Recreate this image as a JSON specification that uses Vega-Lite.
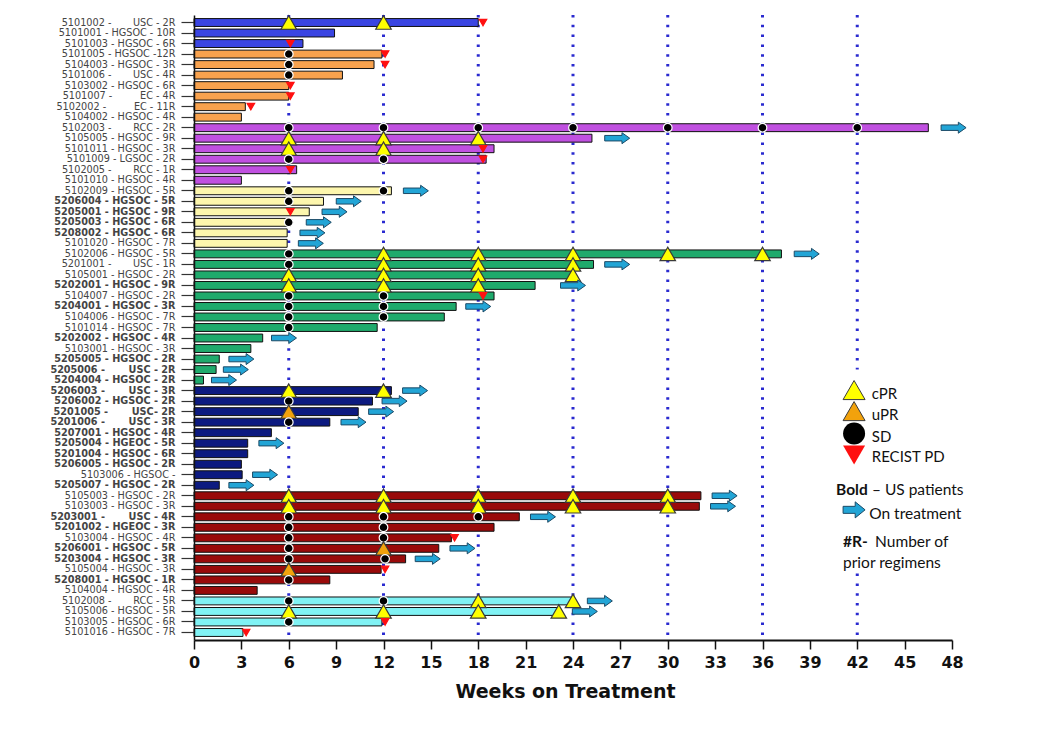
{
  "$schema": "https://vega.github.io/schema/vega-lite/v6.json",
  "width": 758,
  "height": 625,
  "autosize": {"type": "none"},
  "padding": {"left": 194, "top": 15, "right": 97, "bottom": 97},
  "background": "white",
  "config": {"view": {"stroke": null}},
  "datasets": {
    "bars": [
      {"id": "5101002", "pt": "5101002 -\u00a0\u00a0\u00a0\u00a0\u00a0\u00a0\u00a0USC - 2R", "grp": "blue", "end": 18.0},
      {"id": "5101001", "pt": "5101001 - HGSOC - 10R", "grp": "blue", "end": 8.9},
      {"id": "5101003", "pt": "5101003 - HGSOC - 6R", "grp": "blue", "end": 6.9},
      {"id": "5101005", "pt": "5101005 - HGSOC -12R", "grp": "orange", "end": 11.9},
      {"id": "5104003", "pt": "5104003 - HGSOC - 3R", "grp": "orange", "end": 11.4},
      {"id": "5101006", "pt": "5101006 -\u00a0\u00a0\u00a0\u00a0\u00a0\u00a0\u00a0USC - 4R", "grp": "orange", "end": 9.4},
      {"id": "5103002", "pt": "5103002 - HGSOC - 6R", "grp": "orange", "end": 6.0},
      {"id": "5101007", "pt": "5101007 -\u00a0\u00a0\u00a0\u00a0\u00a0\u00a0\u00a0\u00a0\u00a0EC - 4R", "grp": "orange", "end": 6.0},
      {"id": "5102002", "pt": "5102002 -\u00a0\u00a0\u00a0\u00a0\u00a0\u00a0\u00a0\u00a0\u00a0EC - 11R", "grp": "orange", "end": 3.25},
      {"id": "5104002", "pt": "5104002 - HGSOC - 4R\u00a0", "grp": "orange", "end": 3.0},
      {"id": "5102003", "pt": "5102003 -\u00a0\u00a0\u00a0\u00a0\u00a0\u00a0\u00a0RCC - 2R", "grp": "purple", "end": 46.5, "arrow": 48.1},
      {"id": "5105005", "pt": "5105005 - HGSOC - 9R", "grp": "purple", "end": 25.2, "arrow": 26.8},
      {"id": "5101011", "pt": "5101011 - HGSOC - 3R", "grp": "purple", "end": 19.0},
      {"id": "5101009", "pt": "5101009 - LGSOC - 2R", "grp": "purple", "end": 18.5},
      {"id": "5102005", "pt": "5102005 -\u00a0\u00a0\u00a0\u00a0\u00a0\u00a0\u00a0RCC - 1R", "grp": "purple", "end": 6.5},
      {"id": "5101010", "pt": "5101010 - HGSOC - 4R", "grp": "purple", "end": 3.0},
      {"id": "5102009", "pt": "5102009 - HGSOC - 5R", "grp": "yellow", "end": 12.5, "arrow": 14.05},
      {"id": "5206004", "pt": "5206004 - HGSOC - 5R", "grp": "yellow", "end": 8.2, "arrow": 9.8},
      {"id": "5205001", "pt": "5205001 - HGSOC - 9R", "grp": "yellow", "end": 7.3, "arrow": 8.9},
      {"id": "5205003", "pt": "5205003 - HGSOC - 6R", "grp": "yellow", "end": 6.0, "arrow": 7.9},
      {"id": "5208002", "pt": "5208002 - HGSOC - 6R", "grp": "yellow", "end": 5.9, "arrow": 7.5},
      {"id": "5101020", "pt": "5101020 - HGSOC - 7R", "grp": "yellow", "end": 5.9, "arrow": 7.4},
      {"id": "5102006", "pt": "5102006 - HGSOC - 5R", "grp": "green", "end": 37.2, "arrow": 38.8},
      {"id": "5201001", "pt": "5201001 -\u00a0\u00a0\u00a0\u00a0\u00a0\u00a0\u00a0USC - 1R", "grp": "green", "end": 25.3, "arrow": 26.8},
      {"id": "5105001", "pt": "5105001 - HGSOC - 2R", "grp": "green", "end": 24.0},
      {"id": "5202001", "pt": "5202001 - HGSOC - 9R\u00a0", "grp": "green", "end": 21.6, "arrow": 24.0},
      {"id": "5104007", "pt": "5104007 - HGSOC - 2R", "grp": "green", "end": 19.0},
      {"id": "5204001", "pt": "5204001 - HGSOC - 3R", "grp": "green", "end": 16.6, "arrow": 18.0},
      {"id": "5104006", "pt": "5104006 - HGSOC - 7R", "grp": "green", "end": 15.85},
      {"id": "5101014", "pt": "5101014 - HGSOC - 7R", "grp": "green", "end": 11.6},
      {"id": "5202002", "pt": "5202002 - HGSOC - 4R", "grp": "green", "end": 4.35, "arrow": 5.7},
      {"id": "5103001", "pt": "5103001 - HGSOC - 3R", "grp": "green", "end": 3.6},
      {"id": "5205005", "pt": "5205005 - HGSOC - 2R", "grp": "green", "end": 1.6, "arrow": 3.0},
      {"id": "5205006", "pt": "5205006 -\u00a0\u00a0\u00a0\u00a0\u00a0\u00a0\u00a0USC - 2R", "grp": "green", "end": 1.4, "arrow": 2.65},
      {"id": "5204004", "pt": "5204004 - HGSOC - 2R", "grp": "green", "end": 0.6, "arrow": 1.9},
      {"id": "5206003", "pt": "5206003 -\u00a0\u00a0\u00a0\u00a0\u00a0\u00a0\u00a0USC - 3R", "grp": "navy", "end": 12.5, "arrow": 14.0},
      {"id": "5206002", "pt": "5206002 - HGSOC - 2R", "grp": "navy", "end": 11.3, "arrow": 12.7},
      {"id": "5201005", "pt": "5201005 -\u00a0\u00a0\u00a0\u00a0\u00a0\u00a0\u00a0USC- 2R", "grp": "navy", "end": 10.4, "arrow": 11.85},
      {"id": "5201006", "pt": "5201006 -\u00a0\u00a0\u00a0\u00a0\u00a0\u00a0\u00a0USC - 3R", "grp": "navy", "end": 8.6, "arrow": 10.1},
      {"id": "5207001", "pt": "5207001 - HGSOC - 4R", "grp": "navy", "end": 4.9},
      {"id": "5205004", "pt": "5205004 - HGEOC - 5R", "grp": "navy", "end": 3.4, "arrow": 4.9},
      {"id": "5201004", "pt": "5201004 - HGSOC - 6R", "grp": "navy", "end": 3.4},
      {"id": "5206005", "pt": "5206005 - HGSOC - 2R", "grp": "navy", "end": 3.0},
      {"id": "5103006", "pt": "5103006 - HGSOC -\u00a0\u00a0\u00a0\u00a0\u00a0", "grp": "navy", "end": 3.05, "arrow": 4.5},
      {"id": "5205007", "pt": "5205007 - HGSOC - 2R", "grp": "navy", "end": 1.6, "arrow": 3.0},
      {"id": "5105003", "pt": "5105003 - HGSOC - 2R", "grp": "red", "end": 32.1, "arrow": 33.6},
      {"id": "5103003", "pt": "5103003 - HGSOC - 3R", "grp": "red", "end": 32.0, "arrow": 33.5},
      {"id": "5203001", "pt": "5203001 -\u00a0\u00a0\u00a0\u00a0\u00a0\u00a0\u00a0USC - 4R", "grp": "red", "end": 20.6, "arrow": 22.1},
      {"id": "5201002", "pt": "5201002 - HGEOC - 3R", "grp": "red", "end": 19.0},
      {"id": "5103004", "pt": "5103004 - HGSOC - 4R", "grp": "red", "end": 16.3},
      {"id": "5206001", "pt": "5206001 - HGSOC - 5R", "grp": "red", "end": 15.5, "arrow": 17.0},
      {"id": "5203004", "pt": "5203004 - HGSOC - 3R", "grp": "red", "end": 13.4, "arrow": 14.8},
      {"id": "5105004", "pt": "5105004 - HGSOC - 3R", "grp": "red", "end": 11.85},
      {"id": "5208001", "pt": "5208001 - HGSOC - 1R\u00a0", "grp": "red", "end": 8.6},
      {"id": "5104004", "pt": "5104004 - HGSOC - 4R", "grp": "red", "end": 4.0},
      {"id": "5102008", "pt": "5102008 -\u00a0\u00a0\u00a0\u00a0\u00a0\u00a0\u00a0RCC - 5R", "grp": "cyan", "end": 24.0, "arrow": 25.7},
      {"id": "5105006", "pt": "5105006 - HGSOC - 5R", "grp": "cyan", "end": 23.1, "arrow": 24.75},
      {"id": "5103005", "pt": "5103005 - HGSOC - 6R", "grp": "cyan", "end": 11.9},
      {"id": "5101016", "pt": "5101016 - HGSOC - 7R", "grp": "cyan", "end": 3.1}
    ],
    "marks": [
      {"id": "5101002", "wk": 6, "resp": "cPR"},
      {"id": "5101002", "wk": 12, "resp": "cPR"},
      {"id": "5101002", "wk": 18.3, "resp": "RECIST PD"},
      {"id": "5101003", "wk": 6.1, "resp": "RECIST PD"},
      {"id": "5101005", "wk": 6, "resp": "SD"},
      {"id": "5101005", "wk": 12.1, "resp": "RECIST PD"},
      {"id": "5104003", "wk": 6, "resp": "SD"},
      {"id": "5104003", "wk": 12.1, "resp": "RECIST PD"},
      {"id": "5101006", "wk": 6, "resp": "SD"},
      {"id": "5103002", "wk": 6.1, "resp": "RECIST PD"},
      {"id": "5101007", "wk": 6.1, "resp": "RECIST PD"},
      {"id": "5102002", "wk": 3.6, "resp": "RECIST PD"},
      {"id": "5102003", "wk": 6, "resp": "SD"},
      {"id": "5102003", "wk": 12, "resp": "SD"},
      {"id": "5102003", "wk": 18, "resp": "SD"},
      {"id": "5102003", "wk": 24, "resp": "SD"},
      {"id": "5102003", "wk": 30, "resp": "SD"},
      {"id": "5102003", "wk": 36, "resp": "SD"},
      {"id": "5102003", "wk": 42, "resp": "SD"},
      {"id": "5105005", "wk": 6, "resp": "cPR"},
      {"id": "5105005", "wk": 12, "resp": "cPR"},
      {"id": "5105005", "wk": 18, "resp": "cPR"},
      {"id": "5101011", "wk": 6, "resp": "cPR"},
      {"id": "5101011", "wk": 12, "resp": "cPR"},
      {"id": "5101011", "wk": 18.3, "resp": "RECIST PD"},
      {"id": "5101009", "wk": 6, "resp": "SD"},
      {"id": "5101009", "wk": 12, "resp": "SD"},
      {"id": "5101009", "wk": 18.3, "resp": "RECIST PD"},
      {"id": "5102005", "wk": 6.1, "resp": "RECIST PD"},
      {"id": "5102009", "wk": 6, "resp": "SD"},
      {"id": "5102009", "wk": 12, "resp": "SD"},
      {"id": "5206004", "wk": 6, "resp": "SD"},
      {"id": "5205001", "wk": 6.1, "resp": "RECIST PD"},
      {"id": "5205003", "wk": 6, "resp": "SD"},
      {"id": "5102006", "wk": 6, "resp": "SD"},
      {"id": "5102006", "wk": 12, "resp": "cPR"},
      {"id": "5102006", "wk": 18, "resp": "cPR"},
      {"id": "5102006", "wk": 24, "resp": "cPR"},
      {"id": "5102006", "wk": 30, "resp": "cPR"},
      {"id": "5102006", "wk": 36, "resp": "cPR"},
      {"id": "5201001", "wk": 6, "resp": "SD"},
      {"id": "5201001", "wk": 12, "resp": "cPR"},
      {"id": "5201001", "wk": 18, "resp": "cPR"},
      {"id": "5201001", "wk": 24, "resp": "cPR"},
      {"id": "5105001", "wk": 6, "resp": "cPR"},
      {"id": "5105001", "wk": 12, "resp": "cPR"},
      {"id": "5105001", "wk": 18, "resp": "cPR"},
      {"id": "5105001", "wk": 24, "resp": "cPR"},
      {"id": "5202001", "wk": 6, "resp": "cPR"},
      {"id": "5202001", "wk": 12, "resp": "cPR"},
      {"id": "5202001", "wk": 18, "resp": "cPR"},
      {"id": "5104007", "wk": 6, "resp": "SD"},
      {"id": "5104007", "wk": 12, "resp": "SD"},
      {"id": "5104007", "wk": 18.3, "resp": "RECIST PD"},
      {"id": "5204001", "wk": 6, "resp": "SD"},
      {"id": "5204001", "wk": 12, "resp": "SD"},
      {"id": "5104006", "wk": 6, "resp": "SD"},
      {"id": "5104006", "wk": 12, "resp": "SD"},
      {"id": "5101014", "wk": 6, "resp": "SD"},
      {"id": "5206003", "wk": 6, "resp": "cPR"},
      {"id": "5206003", "wk": 12, "resp": "cPR"},
      {"id": "5206002", "wk": 6, "resp": "SD"},
      {"id": "5201005", "wk": 6, "resp": "uPR"},
      {"id": "5201006", "wk": 6, "resp": "SD"},
      {"id": "5105003", "wk": 6, "resp": "cPR"},
      {"id": "5105003", "wk": 12, "resp": "cPR"},
      {"id": "5105003", "wk": 18, "resp": "cPR"},
      {"id": "5105003", "wk": 24, "resp": "cPR"},
      {"id": "5105003", "wk": 30, "resp": "cPR"},
      {"id": "5103003", "wk": 6, "resp": "cPR"},
      {"id": "5103003", "wk": 12, "resp": "cPR"},
      {"id": "5103003", "wk": 18, "resp": "cPR"},
      {"id": "5103003", "wk": 24, "resp": "cPR"},
      {"id": "5103003", "wk": 30, "resp": "cPR"},
      {"id": "5203001", "wk": 6, "resp": "SD"},
      {"id": "5203001", "wk": 12, "resp": "SD"},
      {"id": "5203001", "wk": 18, "resp": "SD"},
      {"id": "5201002", "wk": 6, "resp": "SD"},
      {"id": "5201002", "wk": 12, "resp": "SD"},
      {"id": "5103004", "wk": 6, "resp": "SD"},
      {"id": "5103004", "wk": 12, "resp": "SD"},
      {"id": "5103004", "wk": 16.5, "resp": "RECIST PD"},
      {"id": "5206001", "wk": 6, "resp": "SD"},
      {"id": "5206001", "wk": 12, "resp": "uPR"},
      {"id": "5203004", "wk": 6, "resp": "SD"},
      {"id": "5203004", "wk": 12.1, "resp": "SD"},
      {"id": "5105004", "wk": 6, "resp": "uPR"},
      {"id": "5105004", "wk": 12.1, "resp": "RECIST PD"},
      {"id": "5208001", "wk": 6, "resp": "SD"},
      {"id": "5102008", "wk": 6, "resp": "SD"},
      {"id": "5102008", "wk": 12, "resp": "SD"},
      {"id": "5102008", "wk": 18, "resp": "cPR"},
      {"id": "5102008", "wk": 24, "resp": "cPR"},
      {"id": "5105006", "wk": 6, "resp": "cPR"},
      {"id": "5105006", "wk": 12, "resp": "cPR"},
      {"id": "5105006", "wk": 18, "resp": "cPR"},
      {"id": "5105006", "wk": 23.1, "resp": "cPR"},
      {"id": "5103005", "wk": 6, "resp": "SD"},
      {"id": "5103005", "wk": 12.1, "resp": "RECIST PD"},
      {"id": "5101016", "wk": 3.3, "resp": "RECIST PD"}
    ]
  },
  "layer": [
    {
      "data": {"values": [{"wk": 6}, {"wk": 12}, {"wk": 18}, {"wk": 24}, {"wk": 30}, {"wk": 36}, {"wk": 42}]},
      "mark": {"type": "rule", "color": "#2a2ad0", "strokeWidth": 3, "strokeDash": [2.5, 7.3]},
      "encoding": {"x": {"field": "wk", "type": "quantitative"}}
    },
    {
      "data": {"values": [{}]},
      "mark": {"type": "rect", "color": "white"},
      "encoding": {
        "x": {"datum": 40.2},
        "x2": {"datum": 48.6},
        "y": {"datum": "5205006 -\u00a0\u00a0\u00a0\u00a0\u00a0\u00a0\u00a0USC - 2R"},
        "y2": {"datum": "5105004 - HGSOC - 3R"}
      }
    },
    {
      "data": {"name": "bars"},
      "mark": {"type": "bar", "stroke": "#111111", "strokeWidth": 1},
      "encoding": {
        "y": {
          "field": "pt",
          "type": "nominal",
          "scale": {
            "paddingInner": 0.25,
            "paddingOuter": 0.34,
            "domain": [
              "5101002 -\u00a0\u00a0\u00a0\u00a0\u00a0\u00a0\u00a0USC - 2R",
              "5101001 - HGSOC - 10R",
              "5101003 - HGSOC - 6R",
              "5101005 - HGSOC -12R",
              "5104003 - HGSOC - 3R",
              "5101006 -\u00a0\u00a0\u00a0\u00a0\u00a0\u00a0\u00a0USC - 4R",
              "5103002 - HGSOC - 6R",
              "5101007 -\u00a0\u00a0\u00a0\u00a0\u00a0\u00a0\u00a0\u00a0\u00a0EC - 4R",
              "5102002 -\u00a0\u00a0\u00a0\u00a0\u00a0\u00a0\u00a0\u00a0\u00a0EC - 11R",
              "5104002 - HGSOC - 4R\u00a0",
              "5102003 -\u00a0\u00a0\u00a0\u00a0\u00a0\u00a0\u00a0RCC - 2R",
              "5105005 - HGSOC - 9R",
              "5101011 - HGSOC - 3R",
              "5101009 - LGSOC - 2R",
              "5102005 -\u00a0\u00a0\u00a0\u00a0\u00a0\u00a0\u00a0RCC - 1R",
              "5101010 - HGSOC - 4R",
              "5102009 - HGSOC - 5R",
              "5206004 - HGSOC - 5R",
              "5205001 - HGSOC - 9R",
              "5205003 - HGSOC - 6R",
              "5208002 - HGSOC - 6R",
              "5101020 - HGSOC - 7R",
              "5102006 - HGSOC - 5R",
              "5201001 -\u00a0\u00a0\u00a0\u00a0\u00a0\u00a0\u00a0USC - 1R",
              "5105001 - HGSOC - 2R",
              "5202001 - HGSOC - 9R\u00a0",
              "5104007 - HGSOC - 2R",
              "5204001 - HGSOC - 3R",
              "5104006 - HGSOC - 7R",
              "5101014 - HGSOC - 7R",
              "5202002 - HGSOC - 4R",
              "5103001 - HGSOC - 3R",
              "5205005 - HGSOC - 2R",
              "5205006 -\u00a0\u00a0\u00a0\u00a0\u00a0\u00a0\u00a0USC - 2R",
              "5204004 - HGSOC - 2R",
              "5206003 -\u00a0\u00a0\u00a0\u00a0\u00a0\u00a0\u00a0USC - 3R",
              "5206002 - HGSOC - 2R",
              "5201005 -\u00a0\u00a0\u00a0\u00a0\u00a0\u00a0\u00a0USC- 2R",
              "5201006 -\u00a0\u00a0\u00a0\u00a0\u00a0\u00a0\u00a0USC - 3R",
              "5207001 - HGSOC - 4R",
              "5205004 - HGEOC - 5R",
              "5201004 - HGSOC - 6R",
              "5206005 - HGSOC - 2R",
              "5103006 - HGSOC -\u00a0\u00a0\u00a0\u00a0\u00a0",
              "5205007 - HGSOC - 2R",
              "5105003 - HGSOC - 2R",
              "5103003 - HGSOC - 3R",
              "5203001 -\u00a0\u00a0\u00a0\u00a0\u00a0\u00a0\u00a0USC - 4R",
              "5201002 - HGEOC - 3R",
              "5103004 - HGSOC - 4R",
              "5206001 - HGSOC - 5R",
              "5203004 - HGSOC - 3R",
              "5105004 - HGSOC - 3R",
              "5208001 - HGSOC - 1R\u00a0",
              "5104004 - HGSOC - 4R",
              "5102008 -\u00a0\u00a0\u00a0\u00a0\u00a0\u00a0\u00a0RCC - 5R",
              "5105006 - HGSOC - 5R",
              "5103005 - HGSOC - 6R",
              "5101016 - HGSOC - 7R"
            ]
          },
          "axis": {
            "title": null,
            "labelFont": "DejaVu Sans",
            "labelFontSize": 9.7,
            "labelColor": "#444444",
            "labelFontWeight": {
              "condition": {"test": "indexof(datum.value, '52') === 0 && indexof(datum.value, '5201001') !== 0", "value": "bold"},
              "value": "normal"
            },
            "labelOverlap": false,
            "labelPadding": 6,
            "tickSize": 13,
            "tickColor": "#333333",
            "tickWidth": 1.2,
            "domainColor": "#111111",
            "domainWidth": 1.5
          }
        },
        "x": {
          "field": "end",
          "type": "quantitative",
          "scale": {"domain": [0, 48], "nice": false},
          "axis": {
            "values": [0, 3, 6, 9, 12, 15, 18, 21, 24, 27, 30, 33, 36, 39, 42, 45, 48],
            "title": "Weeks on Treatment",
            "titleFont": "DejaVu Sans",
            "titleFontSize": 19,
            "titleFontWeight": "bold",
            "titleColor": "#111111",
            "titlePadding": 12,
            "titleX": 371,
            "labelFont": "DejaVu Sans",
            "labelFontSize": 16,
            "labelFontWeight": "bold",
            "labelColor": "#111111",
            "labelPadding": 5,
            "labelFlush": false,
            "labelOverlap": false,
            "tickSize": 9,
            "tickColor": "#111111",
            "tickWidth": 1.5,
            "domainColor": "#111111",
            "domainWidth": 2,
            "grid": false
          }
        },
        "color": {
          "field": "grp",
          "type": "nominal",
          "scale": {
            "domain": ["blue", "orange", "purple", "yellow", "green", "navy", "red", "cyan"],
            "range": ["#3a45e2", "#f8a24e", "#c050e0", "#fdf6ad", "#1faa6c", "#0c1a80", "#990a0a", "#80f2f4"]
          },
          "legend": null
        }
      }
    },
    {
      "data": {"name": "marks"},
      "transform": [
        {"lookup": "id", "from": {"data": {"name": "bars"}, "key": "id", "fields": ["pt"]}}
      ],
      "mark": {"type": "point", "filled": true, "opacity": 1, "strokeWidth": 1.2},
      "encoding": {
        "x": {"field": "wk", "type": "quantitative"},
        "y": {"field": "pt", "type": "nominal"},
        "fill": {
          "field": "resp",
          "type": "nominal",
          "scale": {"domain": ["cPR", "uPR", "SD", "RECIST PD"], "range": ["#ffff00", "#f2a20c", "#000000", "#ff1010"]},
          "legend": null
        },
        "stroke": {
          "field": "resp",
          "type": "nominal",
          "scale": {"domain": ["cPR", "uPR", "SD", "RECIST PD"], "range": ["#3a3a3a", "#3a3a3a", "#ffffff", "#ff1010"]},
          "legend": null
        },
        "shape": {
          "field": "resp",
          "type": "nominal",
          "scale": {"domain": ["cPR", "uPR", "SD", "RECIST PD"], "range": ["triangle-up", "triangle-up", "circle", "triangle-down"]},
          "legend": null
        },
        "size": {
          "field": "resp",
          "type": "nominal",
          "scale": {"type": "ordinal", "domain": ["cPR", "uPR", "SD", "RECIST PD"], "range": [240, 240, 75, 56]},
          "legend": null
        }
      }
    },
    {
      "data": {"name": "bars"},
      "transform": [{"filter": "isValid(datum.arrow)"}],
      "mark": {
        "type": "point",
        "shape": "M-1,-0.22L0.38,-0.22L0.38,-0.44L1,0L0.38,0.44L0.38,0.22L-1,0.22Z",
        "filled": true,
        "fill": "#22a5d6",
        "stroke": "#1c4a66",
        "strokeWidth": 1,
        "size": 625,
        "opacity": 1
      },
      "encoding": {
        "x": {"field": "arrow", "type": "quantitative"},
        "y": {"field": "pt", "type": "nominal"}
      }
    },
    {
      "data": {"values": [{}]},
      "mark": {"type": "point", "shape": "triangle-up", "filled": true, "fill": "#ffff00", "stroke": "#3a3a3a", "strokeWidth": 1, "size": 484, "opacity": 1},
      "encoding": {"x": {"datum": 41.8}, "y": {"datum": "5206003 -\u00a0\u00a0\u00a0\u00a0\u00a0\u00a0\u00a0USC - 3R"}, "yOffset": {"value": 3.4}}
    },
    {
      "data": {"values": [{}]},
      "mark": {"type": "point", "shape": "triangle-up", "filled": true, "fill": "#f2a20c", "stroke": "#3a3a3a", "strokeWidth": 1, "size": 484, "opacity": 1},
      "encoding": {"x": {"datum": 41.8}, "y": {"datum": "5201005 -\u00a0\u00a0\u00a0\u00a0\u00a0\u00a0\u00a0USC- 2R"}, "yOffset": {"value": 3.4}}
    },
    {
      "data": {"values": [{}]},
      "mark": {"type": "point", "shape": "circle", "filled": true, "fill": "#000000", "size": 484, "opacity": 1},
      "encoding": {"x": {"datum": 41.8}, "y": {"datum": "5207001 - HGSOC - 4R"}, "yOffset": {"value": 4.8}}
    },
    {
      "data": {"values": [{}]},
      "mark": {"type": "point", "shape": "triangle-down", "filled": true, "fill": "#ff1010", "size": 484, "opacity": 1},
      "encoding": {"x": {"datum": 41.8}, "y": {"datum": "5201004 - HGSOC - 6R"}, "yOffset": {"value": 5.3}}
    },
    {
      "data": {"values": [{}]},
      "mark": {"type": "text", "align": "left", "baseline": "middle", "font": "Lato", "fontSize": 15, "color": "#111111", "dy": 3.4},
      "encoding": {"x": {"datum": 42.92}, "y": {"datum": "5206003 -\u00a0\u00a0\u00a0\u00a0\u00a0\u00a0\u00a0USC - 3R"}, "text": {"value": "cPR"}}
    },
    {
      "data": {"values": [{}]},
      "mark": {"type": "text", "align": "left", "baseline": "middle", "font": "Lato", "fontSize": 15, "color": "#111111", "dy": 3.4},
      "encoding": {"x": {"datum": 42.92}, "y": {"datum": "5201005 -\u00a0\u00a0\u00a0\u00a0\u00a0\u00a0\u00a0USC- 2R"}, "text": {"value": "uPR"}}
    },
    {
      "data": {"values": [{}]},
      "mark": {"type": "text", "align": "left", "baseline": "middle", "font": "Lato", "fontSize": 15, "color": "#111111", "dy": 4.5},
      "encoding": {"x": {"datum": 42.92}, "y": {"datum": "5207001 - HGSOC - 4R"}, "text": {"value": "SD"}}
    },
    {
      "data": {"values": [{}]},
      "mark": {"type": "text", "align": "left", "baseline": "middle", "font": "Lato", "fontSize": 15, "color": "#111111", "dy": 3.5},
      "encoding": {"x": {"datum": 42.92}, "y": {"datum": "5201004 - HGSOC - 6R"}, "text": {"value": "RECIST PD"}}
    },
    {
      "data": {"values": [{}]},
      "mark": {
        "type": "point",
        "shape": "M-1,-0.32L0.1,-0.32L0.1,-0.73L1,0L0.1,0.73L0.1,0.32L-1,0.32Z",
        "filled": true,
        "fill": "#22a5d6",
        "stroke": "#1c4a66",
        "strokeWidth": 1,
        "size": 484,
        "opacity": 1
      },
      "encoding": {
        "x": {"datum": 41.8},
        "y": {"datum": "5203001 -\u00a0\u00a0\u00a0\u00a0\u00a0\u00a0\u00a0USC - 4R"},
        "yOffset": {"value": -3}
      }
    },
    {
      "data": {"values": [{}]},
      "mark": {"type": "text", "align": "left", "baseline": "middle", "font": "Lato", "fontSize": 15.5, "fontWeight": "bold", "color": "#111111", "dy": -6},
      "encoding": {"x": {"datum": 40.66}, "y": {"datum": "5105003 - HGSOC - 2R"}, "text": {"value": "Bold"}}
    },
    {
      "data": {"values": [{}]},
      "mark": {"type": "text", "align": "left", "baseline": "middle", "font": "Lato", "fontSize": 15.5, "color": "#111111", "dy": -6},
      "encoding": {"x": {"datum": 42.93}, "y": {"datum": "5105003 - HGSOC - 2R"}, "text": {"value": "– US patients"}}
    },
    {
      "data": {"values": [{}]},
      "mark": {"type": "text", "align": "left", "baseline": "middle", "font": "Lato", "fontSize": 15.5, "color": "#111111", "dy": -3},
      "encoding": {"x": {"datum": 42.76}, "y": {"datum": "5203001 -\u00a0\u00a0\u00a0\u00a0\u00a0\u00a0\u00a0USC - 4R"}, "text": {"value": "On treatment"}}
    },
    {
      "data": {"values": [{}]},
      "mark": {"type": "text", "align": "left", "baseline": "middle", "font": "Lato", "fontSize": 15.5, "fontWeight": "bold", "color": "#111111", "dy": 4},
      "encoding": {"x": {"datum": 41.1}, "y": {"datum": "5103004 - HGSOC - 4R"}, "text": {"value": "#R-"}}
    },
    {
      "data": {"values": [{}]},
      "mark": {"type": "text", "align": "left", "baseline": "middle", "font": "Lato", "fontSize": 15.5, "color": "#111111", "dy": 4},
      "encoding": {"x": {"datum": 43.13}, "y": {"datum": "5103004 - HGSOC - 4R"}, "text": {"value": "Number of"}}
    },
    {
      "data": {"values": [{}]},
      "mark": {"type": "text", "align": "left", "baseline": "middle", "font": "Lato", "fontSize": 15.5, "color": "#111111", "dy": 4.5},
      "encoding": {"x": {"datum": 41.1}, "y": {"datum": "5203004 - HGSOC - 3R"}, "text": {"value": "prior regimens"}}
    }
  ]
}
